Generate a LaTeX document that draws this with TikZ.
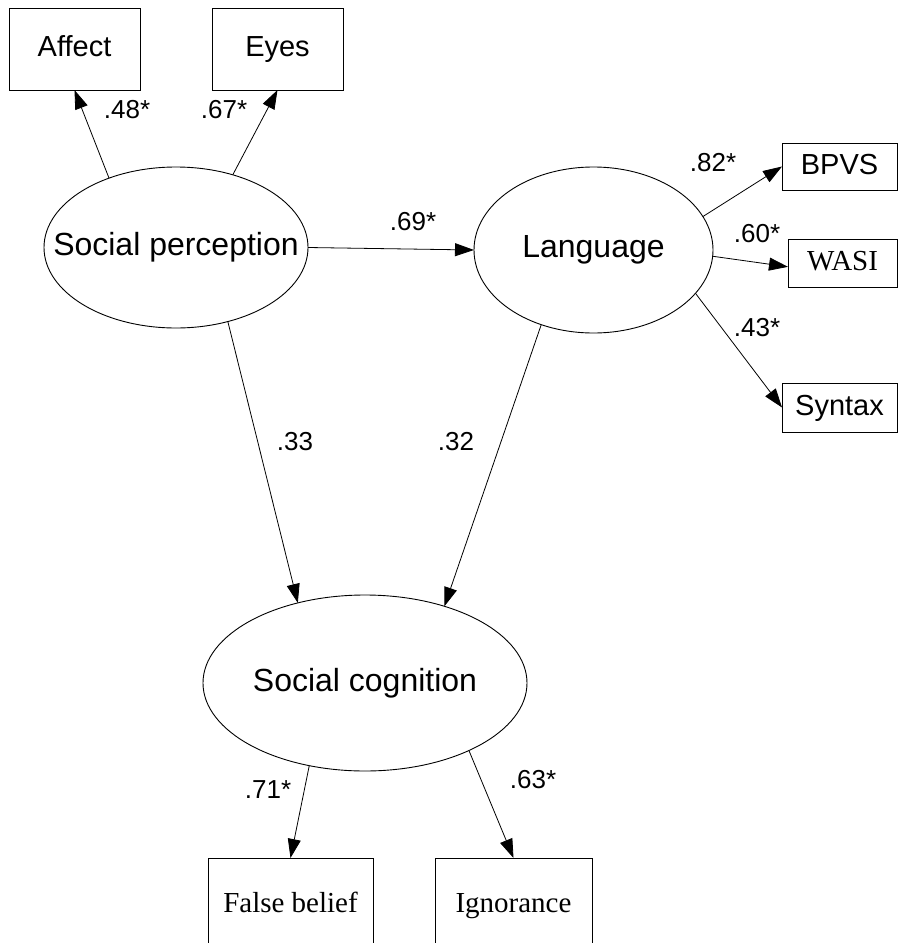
\documentclass[tikz,border=0pt]{standalone}
\usepackage{fontspec}
\setmainfont{Liberation Sans}
\newfontfamily\serifbox{Liberation Serif}
\usetikzlibrary{arrows.meta,shapes.geometric}

\begin{document}
\begin{tikzpicture}[x=1pt,y=-1pt,
  latent/.style={ellipse,draw,line width=0.9pt,inner sep=0pt,outer sep=0pt,
    label={[font=\fontsize{32}{36}\selectfont]center:#1}},
  indicator/.style={rectangle,draw,line width=0.8pt,inner sep=0pt,outer sep=0pt,
    text height=22pt,text depth=7pt,font=\fontsize{29}{34}\selectfont},
  coef/.style={inner sep=0pt,font=\fontsize{26}{30}\selectfont},
  effect/.style={line width=0.8pt,-{Triangle[length=19pt,width=13pt]}}]
\clip (0,0) rectangle (899,943);
\node[latent=Social perception,minimum width=264pt,minimum height=161pt] (sp) at (176,247.5) {};
\node[latent=Language,minimum width=239pt,minimum height=166pt] (lang) at (593.5,250) {};
\node[latent=Social cognition,minimum width=324pt,minimum height=176pt] (sc) at (365,683) {};
\node[indicator,minimum width=131pt,minimum height=82pt] (affect) at (74.5,49) {Affect};
\node[indicator,minimum width=131pt,minimum height=82pt] (eyes) at (277.5,49) {Eyes};
\node[indicator,minimum width=115pt,minimum height=47pt] (bpvs) at (839.5,166.5) {BPVS};
\node[indicator,minimum width=109pt,minimum height=48pt] (wasi) at (842.5,263) {\serifbox WASI};
\node[indicator,minimum width=115pt,minimum height=49pt] (syntax) at (839.5,407.5) {Syntax};
\node[indicator,minimum width=165pt,minimum height=94pt] (fb) at (290.5,905) {\serifbox False belief};
\node[indicator,minimum width=157pt,minimum height=94pt] (ign) at (513.5,905) {\serifbox Ignorance};
\draw[effect] (sp.134) -- (affect.south);
\draw[effect] (sp.52) -- (eyes.south);
\draw[effect] (sp.east) -- (lang.west);
\draw[effect] (lang.17) -- (bpvs.west);
\draw[effect] (lang.-3) -- (wasi.184);
\draw[effect] (lang.-23) -- (syntax.west);
\draw[effect] (sp.-55) -- (sc.130);
\draw[effect] (lang.235) -- (sc.44);
\draw[effect] (sc.236) -- (fb.north);
\draw[effect] (sc.-33) -- (ign.north);
\node[coef] (c-affect) at (127,110) {.48*};
\node[coef] (c-eyes) at (224,110) {.67*};
\node[coef] (c-lang) at (413,222) {.69*};
\node[coef] (c-bpvs) at (713,163) {.82*};
\node[coef] (c-wasi) at (757,234) {.60*};
\node[coef] (c-syntax) at (757,328) {.43*};
\node[coef] (c-spsc) at (295,442) {.33};
\node[coef] (c-langsc) at (456,442) {.32};
\node[coef] (c-fb) at (268,790) {.71*};
\node[coef] (c-ign) at (533,780) {.63*};
\end{tikzpicture}
\end{document}
